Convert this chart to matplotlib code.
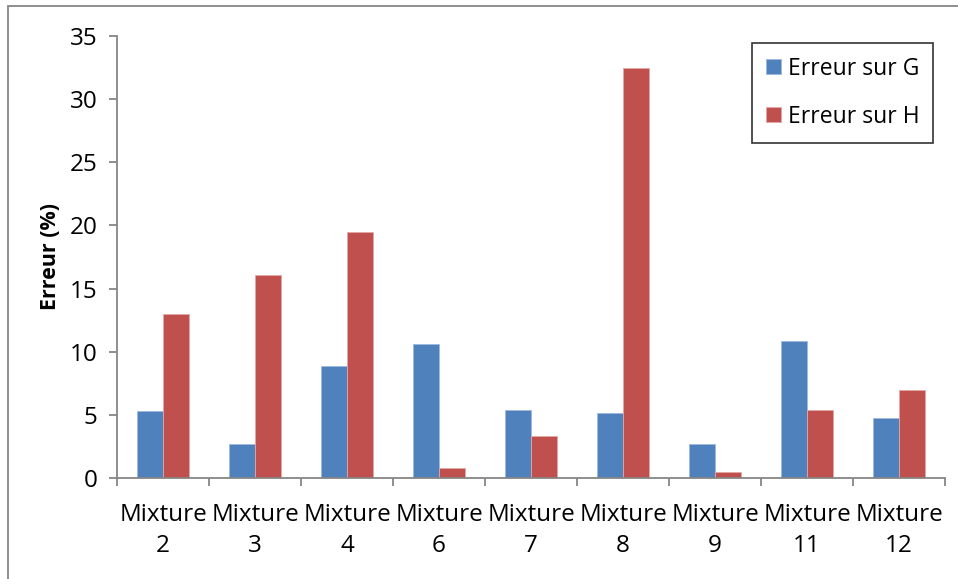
import matplotlib.pyplot as plt
import numpy as np
from matplotlib.patches import Rectangle

# Données
categories = ["Mixture\n2", "Mixture\n3", "Mixture\n4", "Mixture\n6", "Mixture\n7",
              "Mixture\n8", "Mixture\n9", "Mixture\n11", "Mixture\n12"]
erreur_g = [5.3, 2.7, 8.9, 10.6, 5.4, 5.15, 2.7, 10.85, 4.75]
erreur_h = [13.0, 16.1, 19.5, 0.8, 3.3, 32.5, 0.5, 5.4, 6.95]

plt.rcParams['font.family'] = ['Open Sans', 'DejaVu Sans']

fig = plt.figure(figsize=(9.58, 5.79), dpi=100)
ax = fig.add_axes([117 / 958, 1 - 478 / 579, (945 - 117) / 958, (478 - 36) / 579])

x = np.arange(len(categories))
w = 1 / 3.5
ax.bar(x - w / 2, erreur_g, w, color='#4F81BD', edgecolor='#9DB9DE', linewidth=0.6, label='Erreur sur G')
ax.bar(x + w / 2, erreur_h, w, color='#C0504D', edgecolor='#E3A9A7', linewidth=0.6, label='Erreur sur H')

ax.set_xlim(-0.5, len(categories) - 0.5)
ax.set_ylim(0, 35)
ax.set_yticks(range(0, 36, 5))
ax.set_xticks(x)
ax.set_xticklabels(categories, fontsize=17.5, linespacing=1.4)
ax.set_xticks(np.arange(-0.5, len(categories), 1), minor=True)
ax.tick_params(axis='x', which='major', length=0, pad=18)
ax.tick_params(axis='x', which='minor', length=6, color='#868686', width=1.3, direction='out')
ax.tick_params(axis='y', length=6, color='#868686', width=1.3, labelsize=17.5, pad=8)

for s in ['top', 'right']:
    ax.spines[s].set_visible(False)
for s in ['left', 'bottom']:
    ax.spines[s].set_color('#868686')
    ax.spines[s].set_linewidth(1.3)

ax.set_ylabel("Erreur (%)", fontsize=15.5, fontweight='bold', labelpad=6)

leg = ax.legend(loc='upper right', bbox_to_anchor=(933 / 958, 1 - 43 / 579), bbox_transform=fig.transFigure,
                fontsize=16.5, frameon=True, fancybox=False, handlelength=0.65, handleheight=0.65,
                handletextpad=0.3, labelspacing=1.05, borderpad=0.6, borderaxespad=0)
leg.get_frame().set_edgecolor('black')
leg.get_frame().set_linewidth(1.2)

# cadre gris autour de la figure
fig.patches.append(Rectangle((8 / 958, -0.01), 1.0, 1 - 6 / 579 + 0.01, transform=fig.transFigure,
                             fill=False, edgecolor='#868686', linewidth=1.3))

fig.savefig("out.png", dpi=100)
